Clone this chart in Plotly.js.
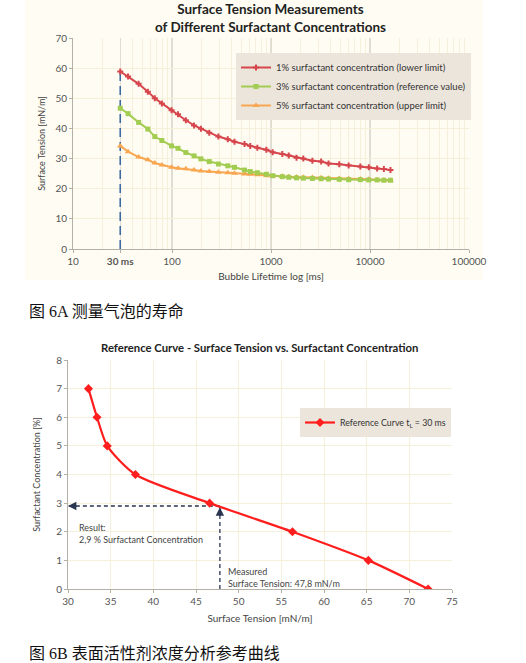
<!DOCTYPE html>
<html>
<head>
<meta charset="utf-8">
<script src="https://cdn.plot.ly/plotly-3.0.1.min.js"></script>
<style>html,body{margin:0;padding:0;background:#fff;}#chart{width:526px;height:663px;}</style>
</head>
<body>
<div id="chart"></div>
<script>
// ---- Chart A data: bubble lifetime (ms) vs surface tension (mN/m) ----
const lifetimeMs = [30, 36, 46, 57, 67, 79, 99, 115, 138, 167, 196, 238, 294, 366, 428, 540, 617, 728, 898, 1040,
  1300, 1510, 1810, 2120, 2620, 3210, 3810, 4890, 6090, 7990, 9720, 11800, 13800, 16100];
const tension1pct = [58.9, 57.2, 54.8, 52.2, 50.0, 48.3, 46.0, 44.7, 42.7, 41.0, 39.9, 38.6, 37.3, 36.4, 35.6, 34.8, 34.2, 33.6, 32.9, 32.1,
  31.5, 31.0, 30.3, 30.0, 29.3, 29.0, 28.4, 28.1, 27.7, 27.4, 27.1, 26.7, 26.5, 26.2];
const tension3pct = [46.7, 44.9, 42.0, 39.8, 37.3, 36.0, 34.2, 33.4, 32.0, 30.9, 29.9, 29.0, 28.2, 27.6, 27.1, 26.2, 25.7, 25.3, 24.8, 24.3,
  24.0, 23.8, 23.6, 23.5, 23.4, 23.3, 23.2, 23.1, 23.0, 23.0, 22.9, 22.9, 22.8, 22.8];
const tension5pct = [34.2, 32.3, 30.5, 29.6, 28.5, 27.9, 27.1, 26.8, 26.6, 26.2, 25.9, 25.7, 25.5, 25.3, 25.1, 24.9, 24.8, 24.6, 24.3, 24.2,
  24.1, 24.0, 23.9, 23.8, 23.7, 23.6, 23.5, 23.4, 23.3, 23.2, 23.1, 23.0, 22.9, 22.8];
const seriesNamesA = ["1% surfactant concentration (lower limit)", "3% surfactant concentration (reference value)", "5% surfactant concentration (upper limit)"];
const tickValsA = [10, 30, 100, 1000, 10000, 100000];
const tickTextA = ["10", "<b>30 ms</b>", "100", "1000", "10000", "100000"];
const markerLifetime = 30;

// ---- Chart B data: reference curve ----
const refTension = [32.4, 33.4, 34.6, 37.9, 46.6, 56.3, 65.2, 72.2];
const refConcentration = [7, 6, 5, 4, 3, 2, 1, 0];
const refName = "Reference Curve t<sub>L</sub> = 30 ms";
const measuredTension = 47.8;
const resultConcentration = 2.9;
const axisMinTensionB = 30;

const W = 526, H = 663;
const px = x => x / W;
const py = y => 1 - y / H;
const FONT = "Lato, 'DejaVu Sans', sans-serif";

const traces = [
  {x: [markerLifetime, markerLifetime], y: [0, tension1pct[0]], xaxis: 'x', yaxis: 'y', mode: 'lines',
   line: {color: '#3d6aa3', width: 1.6, dash: '9px,5px'}, showlegend: false, hoverinfo: 'skip'},
  {x: lifetimeMs, y: tension5pct, name: seriesNamesA[2], xaxis: 'x', yaxis: 'y', mode: 'lines+markers',
   line: {color: '#f9a651', width: 2}, marker: {symbol: 'triangle-up', size: 6, color: '#f9a651'}, legendrank: 3, legendgroup: 'c'},
  {x: lifetimeMs, y: tension3pct, name: seriesNamesA[1], xaxis: 'x', yaxis: 'y', mode: 'lines+markers',
   line: {color: '#a2cd52', width: 2}, marker: {symbol: 'square', size: 5, color: '#a2cd52'}, legendrank: 2, legendgroup: 'b'},
  {x: lifetimeMs, y: tension1pct, name: seriesNamesA[0], xaxis: 'x', yaxis: 'y', mode: 'lines+markers',
   line: {color: '#d6464d', width: 2}, marker: {symbol: 'cross', size: 5, color: '#d6464d'}, legendrank: 1, legendgroup: 'a'},
  // chart B
  {x: [measuredTension, measuredTension], y: [0, resultConcentration], xaxis: 'x2', yaxis: 'y2', mode: 'lines',
   line: {color: '#2a3550', width: 1.3, dash: '4px,3px'}, showlegend: false, hoverinfo: 'skip'},
  {x: [measuredTension, axisMinTensionB], y: [resultConcentration, resultConcentration], xaxis: 'x2', yaxis: 'y2', mode: 'lines',
   line: {color: '#2a3550', width: 1.3, dash: '4px,3px'}, showlegend: false, hoverinfo: 'skip'},
  {x: refTension, y: refConcentration, name: refName, xaxis: 'x2', yaxis: 'y2', mode: 'lines+markers', legend: 'legend2',
   line: {color: '#ff1e1e', width: 2.2, shape: 'spline', smoothing: 0.7}, marker: {symbol: 'diamond', size: 7, color: '#ff1e1e'}}
];

const axisCommon = {
  showline: true, linecolor: '#b5b0a6', linewidth: 1, ticks: 'outside', ticklen: 3, tickcolor: '#b5b0a6',
  tickfont: {family: FONT, size: 10, color: '#555'}, zeroline: false, fixedrange: true
};

const layout = {
  width: W, height: H,
  margin: {l: 0, r: 0, t: 0, b: 0},
  paper_bgcolor: '#ffffff', plot_bgcolor: 'rgba(0,0,0,0)',
  font: {family: FONT, color: '#333'},
  xaxis: Object.assign({}, axisCommon, {
    type: 'log', range: [1, 5], domain: [px(73), px(469)], anchor: 'y',
    tickmode: 'array', tickvals: tickValsA, ticktext: tickTextA,
    showgrid: true, gridcolor: '#e2ddd3', gridwidth: 1.3,
    minor: {dtick: 'D1', showgrid: true, gridcolor: '#f5efdc', gridwidth: 1, ticks: ''},
    title: {text: 'Bubble Lifetime log [ms]', font: {family: FONT, size: 10, color: '#444'}, standoff: 6}
  }),
  yaxis: Object.assign({}, axisCommon, {
    range: [0, 70], dtick: 10, domain: [py(249), py(38)], anchor: 'x',
    showgrid: true, gridcolor: '#f6f0d8', gridwidth: 1,
    title: {text: 'Surface Tension [mN/m]', font: {family: FONT, size: 9, color: '#444'}, standoff: 8}
  }),
  xaxis2: Object.assign({}, axisCommon, {
    range: [30, 75], dtick: 5, domain: [px(68), px(452)], anchor: 'y2',
    showgrid: true, gridcolor: '#f5f0da',
    title: {text: 'Surface Tension [mN/m]', font: {family: FONT, size: 10, color: '#444'}, standoff: 8}
  }),
  yaxis2: Object.assign({}, axisCommon, {
    range: [0, 8], dtick: 1, domain: [py(589), py(360)], anchor: 'x2',
    showgrid: true, gridcolor: '#f5f0da',
    title: {text: 'Surfactant Concentration [%]', font: {family: FONT, size: 9, color: '#444'}, standoff: 14}
  }),
  legend: {
    x: px(236), y: py(53), xanchor: 'left', yanchor: 'top',
    bgcolor: '#ece5dc', borderwidth: 0, tracegroupgap: 7,
    font: {family: FONT, size: 9.5, color: '#333'}, itemwidth: 30,
    traceorder: 'normal'
  },
  legend2: {
    x: px(300), y: py(408), xanchor: 'left', yanchor: 'top',
    bgcolor: '#ece5dc', borderwidth: 0,
    font: {family: FONT, size: 8.8, color: '#333'}, itemwidth: 30
  },
  shapes: [
    {type: 'rect', xref: 'paper', yref: 'paper', x0: px(25), x1: px(483), y0: py(280), y1: py(0),
     fillcolor: '#fffdf3', line: {width: 0}, layer: 'below'}
  ],
  annotations: [
    {xref: 'paper', yref: 'paper', x: px(270), y: py(18), yanchor: 'middle', text: '<b>Surface Tension Measurements<br>of Different Surfactant Concentrations</b>',
     showarrow: false, font: {family: FONT, size: 13.5, color: '#222'}, align: 'center'},
    {xref: 'paper', yref: 'paper', x: px(259), y: py(347), yanchor: 'middle', text: '<b>Reference Curve - Surface Tension vs. Surfactant Concentration</b>',
     showarrow: false, font: {family: FONT, size: 11.3, color: '#222'}},
    {xref: 'paper', yref: 'paper', x: px(27), y: py(311), xanchor: 'left', yanchor: 'middle', text: '图 6A 测量气泡的寿命',
     showarrow: false, font: {family: "'Liberation Serif', 'Noto Sans CJK SC', serif", size: 16, color: '#111'}},
    {xref: 'paper', yref: 'paper', x: px(27), y: py(653), xanchor: 'left', yanchor: 'middle', text: '图 6B 表面活性剂浓度分析参考曲线',
     showarrow: false, font: {family: "'Liberation Serif', 'Noto Sans CJK SC', serif", size: 16, color: '#111'}},
    {xref: 'x2', yref: 'y2', x: 31.0, y: 1.93, xanchor: 'left', yanchor: 'middle', align: 'left',
     text: 'Result:<br>2,9 % Surfactant Concentration', showarrow: false,
     font: {family: FONT, size: 9, color: '#444'}},
    {xref: 'x2', yref: 'y2', x: 48.5, y: 0.39, xanchor: 'left', yanchor: 'middle', align: 'left',
     text: 'Measured<br>Surface Tension: 47,8 mN/m', showarrow: false,
     font: {family: FONT, size: 9, color: '#444'}},
    // arrowheads
    {xref: 'x2', yref: 'y2', x: measuredTension, y: resultConcentration - 0.05, ax: 0, ay: 10, text: '',
     showarrow: true, arrowhead: 2, arrowsize: 1.2, arrowwidth: 1.4, arrowcolor: '#2a3550', standoff: 0},
    {xref: 'x2', yref: 'y2', x: axisMinTensionB, y: resultConcentration, ax: 10, ay: 0, text: '',
     showarrow: true, arrowhead: 2, arrowsize: 1.2, arrowwidth: 1.4, arrowcolor: '#2a3550', standoff: 0}
  ],
  showlegend: true
};

Plotly.newPlot('chart', traces, layout, {displayModeBar: false, staticPlot: true});
</script>
</body>
</html>
